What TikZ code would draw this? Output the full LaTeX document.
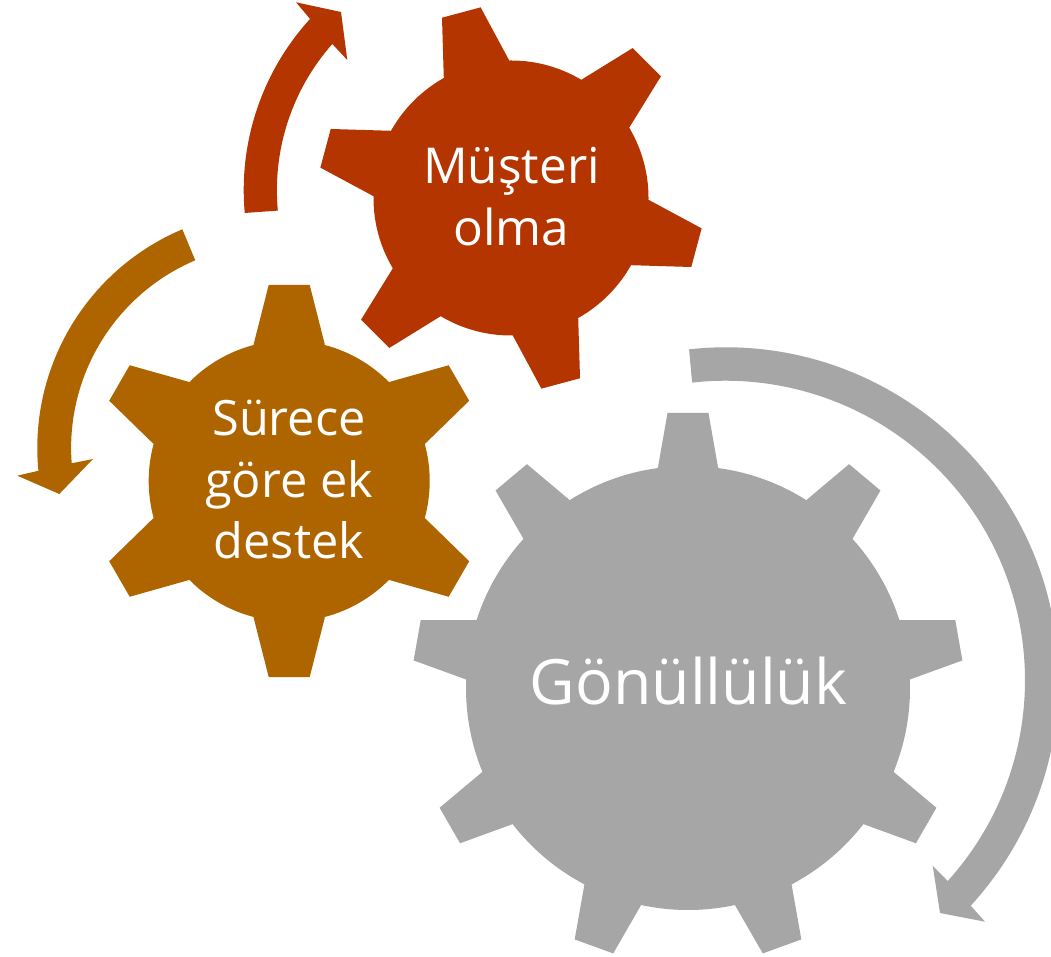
\documentclass[tikz,border=0pt]{standalone}
\usepackage{fontspec}
\setmainfont{Open Sans}
\definecolor{gearred}{HTML}{B43500}
\definecolor{gearorange}{HTML}{AE6500}
\definecolor{geargray}{HTML}{A6A6A6}
\newcommand{\gearshape}[8]{% colour, cx, cy, radius, base half, base h, tip half, tip h ; angles via \gearangles
  \fill[#1] (#2,#3) circle[radius=#4pt];
  \foreach \a in \gearangles {
    \fill[#1,shift={(#2,#3)},rotate=\a-90] (-#5,#6-15) -- (-#5,#6) -- (-#7,#8) -- (#7,#8) -- (#5,#6) -- (#5,#6-15) -- cycle;
  }
}
\tikzset{geartext/.style={text=white,align=center,inner sep=0pt}}
\begin{document}
\begin{tikzpicture}[x=1pt,y=1pt]
\useasboundingbox (0,0) rectangle (1051,956);
\clip (0,0) rectangle (1051,956);
% gears
\def\gearangles{90,50,10,-30,-70,-110,-150,-190,-230}
\gearshape{geargray}{688}{268}{222}{30.5}{218}{20.5}{275}{}
\def\gearangles{90,30,-30,-90,-150,-210}
\gearshape{gearorange}{289.2}{475}{140.5}{35.5}{137}{20.5}{196}{}
\def\gearangles{105,45,-15,-75,-135,165}
\gearshape{gearred}{511}{758}{137.5}{34}{132.7}{20}{192}{}
% arrows
\fill[gearred] (497.4,766) ++(185.2:253.7pt) arc[start angle=185.2,end angle=137.6,radius=253.7pt]
  -- (296,953.7) -- (341,944) -- (347.3,896) -- (332.3,912)
  arc[start angle=138.5,end angle=185.3,radius=220.7pt] -- cycle;
\fill[gearorange] (274.7,508) ++(112.9:237.4pt) arc[start angle=112.9,end angle=185.5,radius=237.4pt]
  -- (17.3,480.3) -- (59.3,462) -- (93,497) -- (71.7,492.7)
  arc[start angle=184.3,end angle=113.05,radius=204pt] -- cycle;
\fill[geargray] (725.6,275.7) ++(96.3:333pt) arc[start angle=96.3,end angle=-42.6,radius=333pt]
  -- (985,34.3) -- (940,43) -- (932.7,90.3) -- (947.7,75)
  arc[start angle=-42.1,end angle=96.4,radius=299.5pt] -- cycle;
% labels
\node[geartext,font=\fontsize{49.5}{62}\selectfont] (musteri) at (511.5,759.5) {Müşteri\\olma};
\node[geartext,font=\fontsize{48.7}{61.5}\selectfont] (surece) at (289,476) {Sürece\\göre ek\\destek};
\node[geartext,font=\fontsize{62.6}{75}\selectfont] (gonullu) at (688.5,274.5) {Gönüllülük};
\end{tikzpicture}
\end{document}
